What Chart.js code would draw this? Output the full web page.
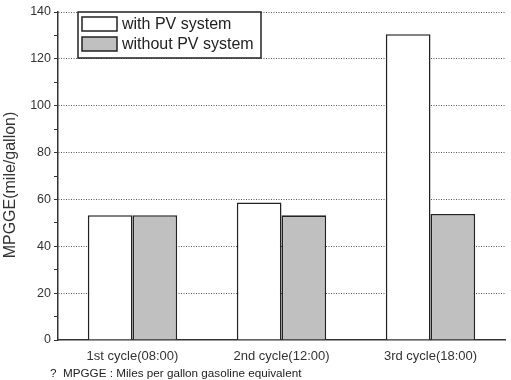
<!DOCTYPE html>
<html>
<head>
<meta charset="utf-8">
<script src="https://cdn.jsdelivr.net/npm/chart.js@4/dist/chart.umd.min.js"></script>
<style>
  html, body { margin: 0; padding: 0; background: #fff; }
  #wrap { position: relative; width: 511px; height: 380px; }
  #note {
    position: absolute; left: 50px; top: 366px;
    font: 11.7px "Liberation Sans", Arial, sans-serif; color: #222; white-space: pre;
  }
</style>
</head>
<body>
<div id="wrap">
  <canvas id="chart" width="511" height="380"></canvas>
  <div id="note">?  MPGGE : Miles per gallon gasoline equivalent</div>
</div>
<script>
const categories = ["1st cycle(08:00)", "2nd cycle(12:00)", "3rd cycle(18:00)"];
const withPV = [53.3, 58.7, 130.5];
const withoutPV = [53.3, 53.2, 53.8];
const seriesNames = ["with PV system", "without PV system"];
const seriesColors = ["#ffffff", "#c0c0c0"];
const yTitle = "MPGGE(mile/gallon)";

const FONT = "'Liberation Sans', Arial, sans-serif";

// legend box drawn inside the plot, top left, plus the y title
const boxLegend = {
  id: "boxLegend",
  afterDraw(chart) {
    const ctx = chart.ctx;
    const x = 78, y = 12, w = 183, h = 46;
    ctx.save();
    ctx.fillStyle = "#fff";
    ctx.fillRect(x, y, w, h);
    ctx.strokeStyle = "#222";
    ctx.lineWidth = 1.5;
    ctx.strokeRect(x, y, w, h);
    ctx.font = "16px " + FONT;
    ctx.textBaseline = "middle";
    chart.data.datasets.forEach((ds, i) => {
      const sy = y + 5 + i * 20;
      ctx.fillStyle = ds.backgroundColor;
      ctx.fillRect(x + 4, sy, 35, 14);
      ctx.lineWidth = 1.5;
      ctx.strokeRect(x + 4, sy, 35, 14);
      ctx.fillStyle = "#222";
      ctx.fillText(ds.label, x + 44, sy + 8);
    });

    // y axis title, a bit below the middle like the original
    ctx.translate(11, 185);
    ctx.rotate(-Math.PI / 2);
    ctx.textAlign = "center";
    ctx.textBaseline = "middle";
    ctx.fillStyle = "#333";
    ctx.font = "16px " + FONT;
    ctx.fillText(yTitle, 0, 0);
    ctx.restore();
  }
};

new Chart(document.getElementById("chart"), {
  type: "bar",
  data: {
    labels: categories,
    datasets: [
      { label: seriesNames[0], data: withPV, backgroundColor: seriesColors[0], borderColor: "#222", borderWidth: 1.6 },
      { label: seriesNames[1], data: withoutPV, backgroundColor: seriesColors[1], borderColor: "#222", borderWidth: 1.6 },
    ],
  },
  options: {
    responsive: false,
    animation: false,
    layout: { padding: { top: 12, right: 6, left: 0, bottom: 0 } },
    datasets: { bar: { categoryPercentage: 0.6, barPercentage: 1.0 } },
    plugins: { legend: { display: false }, tooltip: { enabled: false } },
    scales: {
      x: {
        grid: { display: false },
        border: { display: true, color: "#333", width: 1.5 },
        ticks: { color: "#333", font: { family: FONT, size: 13 }, padding: 1 },
        afterFit(scale) { scale.height = 40; },
      },
      y: {
        min: 0,
        max: 140,
        ticks: {
          stepSize: 10,
          color: "#333",
          font: { family: FONT, size: 12.5 },
          padding: 3,
          callback: (v) => (v % 20 === 0 ? v : ""),
        },
        grid: {
          color: (c) => (c.tick && c.tick.value % 20 === 0 && c.tick.value > 0 ? "#555" : "rgba(0,0,0,0)"),
          tickColor: "#333",
          tickLength: 4,
          lineWidth: 1,
        },
        // in v4 border.dash styles the grid lines
        border: { display: true, color: "#333", width: 1.5, dash: [1, 1.5] },
        afterFit(scale) { scale.width = 58; },
      },
    },
  },
  plugins: [boxLegend],
});
</script>
</body>
</html>
